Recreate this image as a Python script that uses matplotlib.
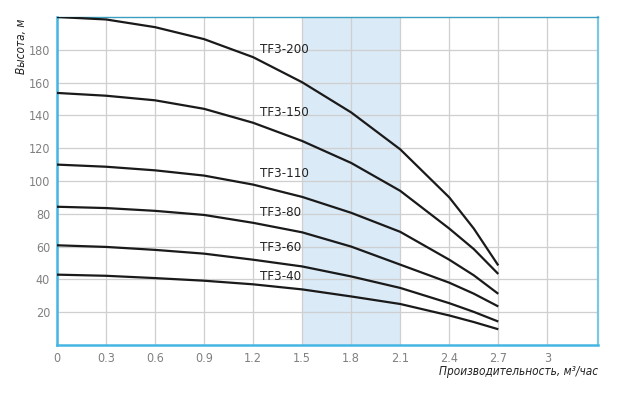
import matplotlib
matplotlib.use("Agg")
import matplotlib.pyplot as plt
from matplotlib import font_manager as fm

# --- data ---
flow = [0, 0.3, 0.6, 0.9, 1.2, 1.5, 1.8, 2.1, 2.4, 2.55, 2.7]
series_names = ["TF3-200", "TF3-150", "TF3-110", "TF3-80", "TF3-60", "TF3-40"]
head_200 = [200, 198.5, 193.8, 186.5, 175.5, 160.2, 141.8, 119.3, 90, 71, 48.5]
head_150 = [153.7, 152, 149.2, 144, 135.5, 124.4, 111, 94, 71, 58.5, 43.3]
head_110 = [110, 108.7, 106.5, 103.3, 97.8, 90.3, 80.6, 69, 52, 42.5, 31.2]
head_80 = [84.3, 83.5, 81.8, 79.3, 74.5, 68.7, 60, 49, 38, 31.3, 23.5]
head_60 = [60.8, 59.8, 58, 55.7, 52, 47.9, 41.8, 34.8, 25.5, 20.2, 14.3]
head_40 = [42.9, 42.2, 40.8, 39.2, 37, 33.9, 29.6, 25, 18, 14, 9.6]
label_y = [180, 141.8, 104.6, 80.6, 59.2, 41.8]
label_x = 1.24
x_ticks = [0, 0.3, 0.6, 0.9, 1.2, 1.5, 1.8, 2.1, 2.4, 2.7, 3]
x_tick_labels = ["0", "0.3", "0.6", "0.9", "1.2", "1.5", "1.8", "2.1", "2.4", "2.7", "3"]
y_ticks = [20, 40, 60, 80, 100, 120, 140, 160, 180]
band = (1.5, 2.1)

# --- font choice ---
names = {f.name for f in fm.fontManager.ttflist}
condensed = None
for cand in ["Liberation Sans Narrow", "DejaVu Sans Condensed"]:
    if cand in names:
        condensed = cand
        break
if condensed is None:
    condensed = "DejaVu Sans"
    stretch = "condensed"
else:
    stretch = "normal"
plt.rcParams['font.family'] = [condensed, 'DejaVu Sans']
plt.rcParams['font.stretch'] = stretch

fig = plt.figure(figsize=(6.17, 3.97), dpi=100)
ax = fig.add_axes([57/617, 1 - 345/397, (598 - 57)/617, (345 - 17)/397])

ax.axvspan(band[0], band[1], color='#daeaf7', zorder=0.2, lw=0)

all_heads = [head_200, head_150, head_110, head_80, head_60, head_40]
for name, h, ly in zip(series_names, all_heads, label_y):
    ax.plot(flow, h, color='#1a1a1a', lw=1.6, zorder=3, solid_capstyle='butt',
            solid_joinstyle='round')
    ax.text(label_x, ly, name, fontsize=9.5, color='#222222', va='center', ha='left', zorder=4)

ax.set_xlim(0, 3.31)
ax.set_ylim(0, 200)
ax.set_xticks(x_ticks)
ax.set_xticklabels(x_tick_labels)
ax.set_yticks(y_ticks)
ax.tick_params(length=0, labelsize=9, labelcolor='#808080', pad=5)
ax.grid(True, color='#cfcfcf', lw=0.9)
ax.set_axisbelow(True)

for s in ['left', 'bottom']:
    ax.spines[s].set_color('#45b6e4')
    ax.spines[s].set_linewidth(1.8)
ax.spines['top'].set_color('#3a9fbf')
ax.spines['top'].set_linewidth(1.0)
ax.spines['right'].set_color('#7cc7e2')
ax.spines['right'].set_linewidth(1.6)

fig.text(22/617, 1 - 19/397, "Высота, м", rotation=90, ha='center', va='top',
         fontsize=8.5, style='italic', color='#222222')
fig.text(598/617, 1 - 371/397, "Производительность, м³/час", ha='right', va='center',
         fontsize=8.5, style='italic', color='#222222')

fig.savefig("out.png", dpi=100)
